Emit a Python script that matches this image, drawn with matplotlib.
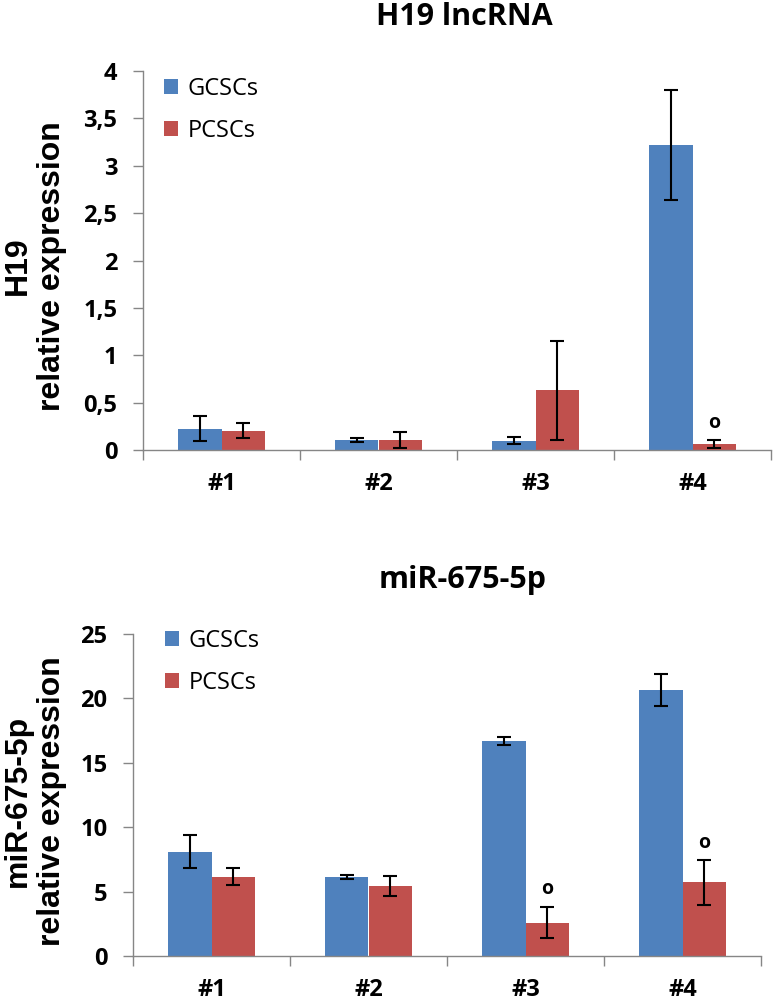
import matplotlib
matplotlib.use("Agg")
import matplotlib.pyplot as plt
import numpy as np
from matplotlib.patches import Patch

# ---------------- data ----------------
categories = ["#1", "#2", "#3", "#4"]
series_names = ["GCSCs", "PCSCs"]

h19_gcsc = [0.225, 0.105, 0.10, 3.22]
h19_gcsc_err = [0.13, 0.02, 0.035, 0.58]
h19_pcsc = [0.205, 0.105, 0.63, 0.065]
h19_pcsc_err = [0.08, 0.08, 0.52, 0.04]
h19_sig_pcsc = [None, None, None, 0.29]
h19_yticks = [0, 0.5, 1, 1.5, 2, 2.5, 3, 3.5, 4]
h19_yticklabels = ["0", "0,5", "1", "1,5", "2", "2,5", "3", "3,5", "4"]

mir_gcsc = [8.1, 6.15, 16.72, 20.65]
mir_gcsc_err = [1.27, 0.15, 0.3, 1.25]
mir_pcsc = [6.16, 5.43, 2.59, 5.72]
mir_pcsc_err = [0.68, 0.8, 1.2, 1.73]
mir_sig_pcsc = [None, None, 5.2, 8.75]
mir_yticks = [0, 5, 10, 15, 20, 25]
mir_yticklabels = ["0", "5", "10", "15", "20", "25"]

# ---------------- style ----------------
BLUE = "#4F81BD"
RED = "#C0504D"
GRAY = "#868686"
TICKFONT = "Open Sans"
LABELFONT = "Liberation Sans"

W, H = 774, 1006
fig = plt.figure(figsize=(W / 100, H / 100), dpi=100)


def px_box(left, top, right, bottom):
    return [left / W, 1 - bottom / H, (right - left) / W, (bottom - top) / H]


def draw(ax, gcsc, gerr, pcsc, perr, sig, yticks, ylabels, ymax, legend_xy):
    x = np.arange(len(categories))
    w = 0.28
    ekw = dict(ecolor="black", elinewidth=1.5, capsize=5, capthick=1.5, zorder=3)
    ax.bar(x - w / 2, gcsc, w, color=BLUE, yerr=gerr, error_kw=ekw, zorder=2,
           label=series_names[0])
    ax.bar(x + w / 2, pcsc, w, color=RED, yerr=perr, error_kw=ekw, zorder=2,
           label=series_names[1])
    for xi, s in zip(x, sig):
        if s is not None:
            ax.text(xi + w / 2, s, "o", ha="center", va="center", fontsize=14,
                    fontweight="bold", family=TICKFONT)
    ax.set_xlim(-0.5, len(categories) - 0.5)
    ax.set_ylim(0, ymax)
    ax.set_xticks(x)
    ax.set_xticklabels(categories, fontsize=17, fontweight="bold", family=TICKFONT)
    ax.set_xticks(np.arange(-0.5, len(categories), 1), minor=True)
    ax.tick_params(axis="x", which="major", length=0, pad=16)
    ax.tick_params(axis="x", which="minor", length=7.5, width=1, color=GRAY, direction="out")
    ax.set_yticks(yticks)
    ax.set_yticklabels(ylabels, fontsize=17, fontweight="bold", family=TICKFONT)
    ax.tick_params(axis="y", length=7.5, width=1, color=GRAY, direction="out", pad=11)
    for sp in ["top", "right"]:
        ax.spines[sp].set_visible(False)
    for sp in ["left", "bottom"]:
        ax.spines[sp].set_color(GRAY)
        ax.spines[sp].set_linewidth(1)
    handles = [Patch(facecolor=BLUE, label=series_names[0]),
               Patch(facecolor=RED, label=series_names[1])]
    ax.legend(handles=handles, loc="upper left",
              bbox_to_anchor=(legend_xy[0] / W, 1 - legend_xy[1] / H),
              bbox_transform=fig.transFigure, frameon=False, borderpad=0,
              borderaxespad=0, handlelength=0.6, handleheight=0.6,
              handletextpad=0.4, labelspacing=0.75,
              prop=dict(family=TICKFONT, size=17))


ax1 = fig.add_axes(px_box(143, 71, 771, 450))
draw(ax1, h19_gcsc, h19_gcsc_err, h19_pcsc, h19_pcsc_err, h19_sig_pcsc,
     h19_yticks, h19_yticklabels, 4, (164, 77))

ax2 = fig.add_axes(px_box(133, 634, 761, 956))
draw(ax2, mir_gcsc, mir_gcsc_err, mir_pcsc, mir_pcsc_err, mir_sig_pcsc,
     mir_yticks, mir_yticklabels, 25, (165, 629))

# titles
fig.text(464 / W, 1 - 25 / H, "H19 lncRNA", ha="center", va="baseline",
         fontsize=22, fontweight="bold", family=TICKFONT)
fig.text(463 / W, 1 - 588 / H, "miR-675-5p", ha="center", va="baseline",
         fontsize=22, fontweight="bold", family=TICKFONT)

# y labels
fig.text(35 / W, 1 - 266 / H, "H19\nrelative expression", rotation=90,
         ha="center", va="center", multialignment="center",
         fontsize=23, fontweight="bold", family=LABELFONT)
fig.text(35 / W, 1 - 801 / H, "miR-675-5p\nrelative expression", rotation=90,
         ha="center", va="center", multialignment="center",
         fontsize=23, fontweight="bold", family=LABELFONT)

fig.savefig("out.png", dpi=100)
